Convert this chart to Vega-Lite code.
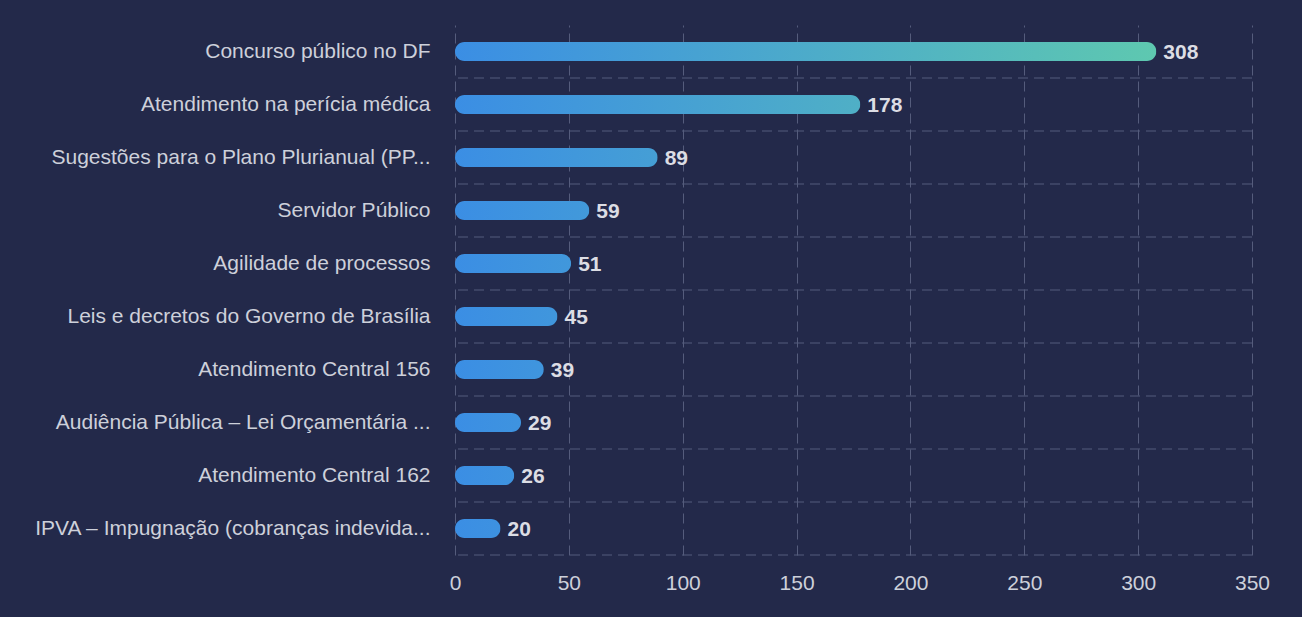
{
  "$schema": "https://vega.github.io/schema/vega-lite/v6.json",
  "width": 797,
  "height": 530,
  "autosize": {"type": "none"},
  "padding": {"left": 455, "top": 25, "right": 50, "bottom": 62},
  "background": "#23294a",
  "config": {
    "view": {"stroke": null},
    "font": "Liberation Sans",
    "axis": {
      "labelFont": "Liberation Sans",
      "labelFontSize": 21,
      "labelColor": "#cdd0da",
      "domain": false,
      "ticks": false,
      "title": null,
      "gridColor": "#555c7c",
      "gridDash": [10, 6],
      "gridWidth": 1
    }
  },
  "data": {
    "values": [
      {"tema": "Concurso público no DF", "qtd": 308},
      {"tema": "Atendimento na perícia médica", "qtd": 178},
      {"tema": "Sugestões para o Plano Plurianual (PP...", "qtd": 89},
      {"tema": "Servidor Público", "qtd": 59},
      {"tema": "Agilidade de processos", "qtd": 51},
      {"tema": "Leis e decretos do Governo de Brasília", "qtd": 45},
      {"tema": "Atendimento Central 156", "qtd": 39},
      {"tema": "Audiência Pública – Lei Orçamentária ...", "qtd": 29},
      {"tema": "Atendimento Central 162", "qtd": 26},
      {"tema": "IPVA – Impugnação (cobranças indevida...", "qtd": 20}
    ]
  },
  "layer": [
    {
      "mark": {"type": "rule", "stroke": "#555c7c", "strokeWidth": 1, "strokeDash": [10, 6]},
      "encoding": {
        "y": {"field": "tema", "type": "nominal", "sort": null, "bandPosition": 1}
      }
    },
    {
      "mark": {"type": "bar", "size": 19, "cornerRadius": 9.5},
      "encoding": {
        "y": {
          "field": "tema",
          "type": "nominal",
          "sort": null,
          "axis": {"grid": false, "labelPadding": 25, "labelLimit": 450}
        },
        "x": {
          "field": "qtd",
          "type": "quantitative",
          "scale": {"domain": [0, 350], "nice": false, "zero": true},
          "axis": {"values": [0, 50, 100, 150, 200, 250, 300, 350], "grid": true, "labelPadding": 17, "labelFlush": false}
        },
        "fill": {
          "condition": [
            {"test": "datum.qtd === 308", "value": {"gradient": "linear", "x1": 0, "y1": 0, "x2": 1, "y2": 0, "stops": [{"offset": 0, "color": "#3b8ee4"}, {"offset": 1, "color": "#5ec8b0"}]}},
            {"test": "datum.qtd === 178", "value": {"gradient": "linear", "x1": 0, "y1": 0, "x2": 1.7303, "y2": 0, "stops": [{"offset": 0, "color": "#3b8ee4"}, {"offset": 1, "color": "#5ec8b0"}]}},
            {"test": "datum.qtd === 89", "value": {"gradient": "linear", "x1": 0, "y1": 0, "x2": 3.4607, "y2": 0, "stops": [{"offset": 0, "color": "#3b8ee4"}, {"offset": 1, "color": "#5ec8b0"}]}},
            {"test": "datum.qtd === 59", "value": {"gradient": "linear", "x1": 0, "y1": 0, "x2": 5.2203, "y2": 0, "stops": [{"offset": 0, "color": "#3b8ee4"}, {"offset": 1, "color": "#5ec8b0"}]}},
            {"test": "datum.qtd === 51", "value": {"gradient": "linear", "x1": 0, "y1": 0, "x2": 6.0392, "y2": 0, "stops": [{"offset": 0, "color": "#3b8ee4"}, {"offset": 1, "color": "#5ec8b0"}]}},
            {"test": "datum.qtd === 45", "value": {"gradient": "linear", "x1": 0, "y1": 0, "x2": 6.8444, "y2": 0, "stops": [{"offset": 0, "color": "#3b8ee4"}, {"offset": 1, "color": "#5ec8b0"}]}},
            {"test": "datum.qtd === 39", "value": {"gradient": "linear", "x1": 0, "y1": 0, "x2": 7.8974, "y2": 0, "stops": [{"offset": 0, "color": "#3b8ee4"}, {"offset": 1, "color": "#5ec8b0"}]}},
            {"test": "datum.qtd === 29", "value": {"gradient": "linear", "x1": 0, "y1": 0, "x2": 10.6207, "y2": 0, "stops": [{"offset": 0, "color": "#3b8ee4"}, {"offset": 1, "color": "#5ec8b0"}]}},
            {"test": "datum.qtd === 26", "value": {"gradient": "linear", "x1": 0, "y1": 0, "x2": 11.8462, "y2": 0, "stops": [{"offset": 0, "color": "#3b8ee4"}, {"offset": 1, "color": "#5ec8b0"}]}}
          ],
          "value": {"gradient": "linear", "x1": 0, "y1": 0, "x2": 15.4, "y2": 0, "stops": [{"offset": 0, "color": "#3b8ee4"}, {"offset": 1, "color": "#5ec8b0"}]}
        }
      }
    },
    {
      "mark": {"type": "text", "align": "left", "baseline": "middle", "dx": 7, "dy": 1, "font": "Liberation Sans", "fontSize": 21, "fontWeight": "bold", "fill": "#dcdde4"},
      "encoding": {
        "y": {"field": "tema", "type": "nominal", "sort": null},
        "x": {"field": "qtd", "type": "quantitative"},
        "text": {"field": "qtd", "type": "quantitative"}
      }
    }
  ]
}
